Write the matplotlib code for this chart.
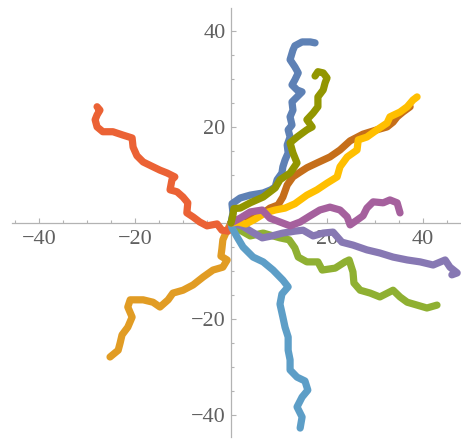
import matplotlib
matplotlib.use('Agg')
import matplotlib.pyplot as plt
from matplotlib.ticker import MultipleLocator, FixedLocator

# ten 2D walks, all starting at the origin
blue_x = [0, 0.4, 0.2, 1.9, 4.0, 6.7, 8.3, 9.2, 9.6, 10.6, 10.8, 11.25, 11.9, 11.7, 12.3,
          11.9, 12.7, 12.3, 12.9, 12.7, 13.75, 14.8, 13.75, 12.7, 13.3, 14.0, 13.3, 12.3,
          12.9, 13.3, 14.8, 16.5, 17.5]
blue_y = [0, 2.1, 4.0, 5.2, 5.8, 6.25, 6.9, 7.5, 9.0, 10.4, 11.7, 13.1, 14.6, 16.25, 17.9,
          19.4, 20.4, 22.1, 23.5, 25.2, 26.25, 27.3, 27.7, 28.75, 29.8, 31.25, 32.5, 34.0,
          36.0, 36.9, 37.7, 37.7, 37.5]

orange_x = [0, -1.0, -1.7, -1.9, -2.1, -0.8, -1.7, -3.75, -5.8, -7.9, -10.0, -12.1, -13.1,
            -14.8, -16.25, -18.3, -21.0, -21.5, -20.6, -21.5, -22.7, -23.1, -23.5, -25.2]
orange_y = [0, -1.9, -3.5, -5.4, -6.9, -7.7, -9.2, -9.8, -11.25, -12.9, -14.0, -14.6, -16.0,
            -17.5, -16.5, -16.0, -16.0, -17.5, -19.6, -21.7, -23.3, -25.0, -26.5, -27.9]

green_x = [0, 1.9, 4.0, 6.7, 10.2, 12.1, 13.3, 14.0, 15.8, 18.1, 19.0, 21.7, 23.75, 24.6,
           25.4, 25.6, 26.9, 29.0, 31.0, 33.75, 35.2, 36.7, 38.75, 40.8, 42.9]
green_y = [0, -1.5, -2.7, -2.1, -3.1, -3.5, -5.2, -7.1, -8.1, -8.1, -9.8, -9.4, -8.1, -7.7,
           -10.2, -12.5, -14.0, -14.6, -15.4, -14.0, -15.4, -16.5, -17.1, -17.7, -17.1]

red_x = [0, -0.6, -1.9, -2.9, -5.0, -6.5, -7.9, -9.2, -9.0, -10.0, -11.25, -12.7, -12.3,
         -11.7, -13.3, -14.8, -16.25, -18.3, -19.6, -20.4, -20.6, -22.5, -24.6, -26.7,
         -27.9, -28.3, -27.9, -27.3, -27.9]
red_y = [0, -1.7, -1.5, -0.2, -0.6, 0.2, 1.25, 2.1, 4.2, 5.4, 6.5, 6.9, 9.0, 9.6, 10.4,
         11.0, 11.7, 12.7, 14.0, 15.8, 17.7, 18.3, 19.0, 19.0, 20.0, 21.5, 22.5, 23.5, 24.2]

purple_x = [0, 2.3, 4.4, 6.5, 8.5, 10.8, 13.3, 15.0, 17.1, 19.2, 21.25, 23.1, 25.4, 28.3,
            31.0, 33.75, 36.7, 39.4, 42.1, 44.6, 45.6, 47.1, 46.0]
purple_y = [0, -0.6, -1.9, -3.1, -2.7, -2.1, -1.7, -1.5, -2.7, -2.1, -1.9, -4.0, -4.6, -5.6,
            -6.25, -7.1, -7.7, -8.1, -8.75, -7.7, -9.2, -10.4, -10.8]

darkorange_x = [0, 1.9, 4.0, 6.5, 8.1, 9.8, 10.8, 11.7, 12.9, 14.4, 15.8, 17.9, 20.6, 22.7,
                24.8, 27.5, 30.4, 32.5, 33.75, 34.6, 35.8, 37.3]
darkorange_y = [0, 0.6, 1.5, 1.9, 3.1, 3.75, 5.4, 7.9, 9.6, 10.6, 11.5, 12.5, 13.75, 15.2,
                17.1, 18.5, 19.4, 20.0, 21.0, 22.1, 23.1, 24.2]

lightblue_x = [0, 0.2, 1.25, 2.5, 4.6, 6.7, 8.75, 10.8, 11.9, 10.6, 10.2, 10.8, 11.25, 11.9,
               11.9, 12.3, 12.3, 13.75, 15.4, 16.0, 14.8, 13.75, 14.8, 14.4]
lightblue_y = [0, -1.0, -2.9, -5.0, -7.1, -8.1, -9.8, -11.9, -13.3, -14.8, -16.9, -19.6,
               -21.7, -23.75, -26.5, -28.5, -30.6, -32.1, -32.9, -34.8, -36.25, -38.3,
               -40.4, -42.7]

yellow_x = [0, 1.5, 3.1, 5.0, 7.1, 9.2, 11.25, 13.3, 15.8, 17.9, 20.0, 22.1, 22.7, 24.2,
            26.25, 26.5, 28.3, 30.4, 32.5, 33.1, 35.2, 36.7, 37.9, 38.75]
yellow_y = [0, 0.2, -0.2, 0.8, 2.1, 2.7, 3.1, 4.0, 5.8, 6.9, 8.3, 9.6, 11.7, 13.75, 15.2,
            17.3, 17.9, 19.4, 20.8, 22.1, 23.1, 24.2, 25.6, 26.25]

magenta_x = [0, 1.9, 4.0, 6.5, 8.1, 10.2, 12.3, 14.4, 16.5, 18.5, 20.6, 22.7, 24.2, 24.8,
             26.25, 27.5, 28.3, 29.6, 31.7, 33.1, 34.6, 35.2]
magenta_y = [0, 1.0, 2.3, 2.7, 1.0, 0.2, -0.6, 0.2, 1.5, 2.7, 3.3, 2.7, 1.25, -0.4, 0.6,
             1.5, 3.1, 4.4, 4.2, 4.8, 4.2, 2.1]

olive_x = [0, 0.4, 0.6, 1.9, 4.0, 6.7, 9.2, 10.2, 12.3, 13.75, 12.9, 12.3, 13.75, 15.8,
           16.9, 15.8, 17.1, 18.1, 18.1, 19.2, 19.6, 20.0, 19.2, 18.1, 17.5]
olive_y = [0, 1.7, 3.0, 3.1, 4.2, 5.4, 7.3, 9.0, 10.4, 12.5, 14.6, 16.7, 17.9, 19.4, 20.0,
           21.5, 22.9, 24.2, 26.25, 27.7, 29.2, 30.2, 31.25, 31.5, 30.6]

walks = [
    (blue_x, blue_y, '#5E81B5'),
    (orange_x, orange_y, '#E19C24'),
    (green_x, green_y, '#8FB032'),
    (red_x, red_y, '#EB6235'),
    (purple_x, purple_y, '#8778B3'),
    (darkorange_x, darkorange_y, '#C56E1A'),
    (lightblue_x, lightblue_y, '#5D9EC7'),
    (yellow_x, yellow_y, '#FFBF00'),
    (magenta_x, magenta_y, '#A5609D'),
    (olive_x, olive_y, '#929600'),
]

major_ticks = [-40, -20, 20, 40]


def main():
    fig = plt.figure(figsize=(4.61, 4.41), dpi=100)
    ax = fig.add_axes([11.6 / 461, 4.3 / 441, 449.4 / 461, 428.4 / 441])

    for x, y, color in walks:
        ax.plot(x, y, color=color, lw=5.2, solid_joinstyle='round',
                solid_capstyle='round')

    ax.set_xlim(-45.7, 47.9)
    ax.set_ylim(-44.5, 44.7)

    axis_gray = '#b3b3b3'
    for side in ['top', 'right']:
        ax.spines[side].set_visible(False)
    for side in ['bottom', 'left']:
        ax.spines[side].set_position(('data', 0))
        ax.spines[side].set_color(axis_gray)
        ax.spines[side].set_linewidth(0.9)
        ax.spines[side].set_zorder(0.5)

    ax.xaxis.set_major_locator(FixedLocator(major_ticks))
    ax.yaxis.set_major_locator(FixedLocator(major_ticks))
    ax.xaxis.set_minor_locator(MultipleLocator(5))
    ax.yaxis.set_minor_locator(MultipleLocator(5))
    ax.tick_params(which='both', direction='in', color=axis_gray, width=0.8,
                   labelcolor='#606060', labelsize=16)
    ax.tick_params(which='major', length=3.8)
    ax.tick_params(which='minor', length=2.3)
    ax.tick_params(axis='x', pad=5)
    ax.tick_params(axis='y', pad=4)
    for lab in ax.get_xticklabels() + ax.get_yticklabels():
        lab.set_family('Liberation Serif')

    fig.savefig('out.png', dpi=100)


if __name__ == '__main__':
    main()
